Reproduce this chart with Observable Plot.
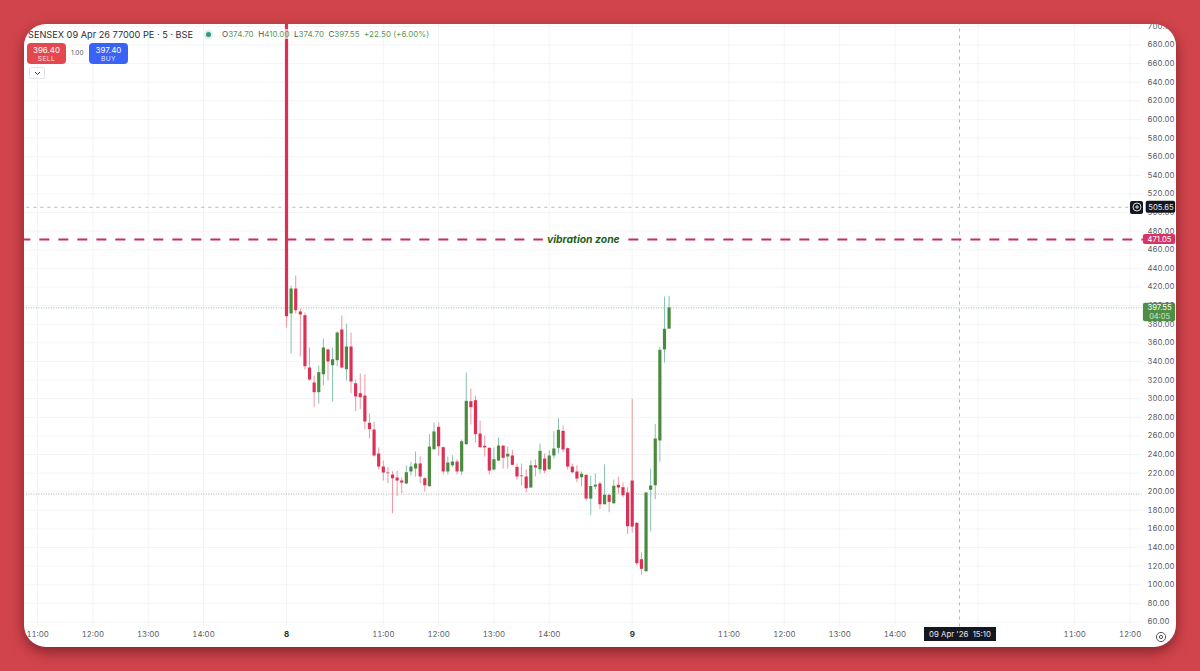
<!DOCTYPE html>
<html><head><meta charset="utf-8">
<script src="https://cdn.jsdelivr.net/npm/d3@7"></script>
<script src="https://cdn.jsdelivr.net/npm/@observablehq/plot@0.6"></script>
<style>
html,body{margin:0;padding:0;width:1200px;height:671px;overflow:hidden;background:#d2444c;font-family:Inter,"Noto Sans",sans-serif}
#card{position:absolute;left:24px;top:24px;width:1152px;height:623px;background:#fff;border-radius:22px;overflow:hidden;box-shadow:0 5px 14px rgba(70,10,15,.55)}
#card svg.plot{position:absolute;left:0;top:0;background:transparent}
.o{position:absolute;white-space:nowrap}
#title{left:4px;top:4.5px;font-size:9.2px;line-height:11px;color:#2a2e39}
#ohlc{left:198px;top:4.5px;font-size:8px;line-height:11px;color:#5b9a57}
#ohlc b{font-weight:400;color:#4a4e59}
#ohlc i{font-style:normal;background:rgba(255,255,255,.65)}
#dot{left:179.5px;top:5.5px;border-radius:50%;background:#2f9a7e;border:2.5px solid #dcefe9;box-sizing:content-box;width:5px;height:5px}
.btn{top:19px;width:39px;height:21px;border-radius:4px;color:#fff;text-align:center;font-size:8px;line-height:10px;padding-top:1.5px;box-sizing:border-box}
.btn span{display:block;font-size:6.6px;line-height:8px;opacity:.85;letter-spacing:.4px}
#sell{left:3px;background:#e5474f}
#buy{left:65px;background:#3b62f6}
#qty{left:47px;top:25px;font-size:6.5px;color:#555}
#more{left:5px;top:43px;width:16px;height:12px;border:1px solid #e3e5ea;border-radius:2px;box-sizing:border-box}
#more svg{position:absolute;left:4px;top:3px}
#gear{left:1130px;top:604px}
#plus{left:1106px;top:176.5px;width:13px;height:13px;background:#131722;border-radius:2px}
#plus svg{position:absolute;left:1.5px;top:1.5px}
</style></head>
<body>
<div id="card"></div>
<script>
// Candles: 5-minute session bars, 8 Apr 09:15 onward
const opens = [715,391,417.8,393.1,389.1,332.9,316.8,306.4,325.7,352.3,335.4,340.8,373.8,331.1,355.5,316,305.3,302.8,273.5,266.3,240.5,226.5,220.1,217.9,214.7,211.5,208.3,221.2,224.4,229.8,213.9,205.4,245.1,269.2,247.3,221.2,227.9,231.9,221.2,250.5,296.7,297.8,262,248.8,246.6,223.3,233,249,237.3,238.4,226.2,216.9,215.8,204,227.9,223.6,235.1,223.6,238.4,246.6,264.9,246.2,226.5,221.2,215,217.6,192.1,205,208.3,186,196.1,187.1,206.9,204.3,198.6,211.5,166,126.9,114,201.5,206.4,254.5,352.3,374.7];
const highs = [740,421,431.8,396.6,392,354.4,324.3,335,364.1,353.3,354.4,371.6,388.8,380.2,370.5,320,326.5,325.4,283.5,274.9,247,233,225.8,221.5,222.2,215,227.6,231.2,242.7,237.6,215,261.3,273.8,273.8,248,237.3,238.7,234.4,255.5,327.6,310.3,302.8,275.9,259.8,247.3,247,257.7,249.1,248,244.8,229.8,229.8,223.3,233,234,251.3,240.5,243.7,264.5,278.4,270.6,247,229.8,227.9,221.2,217.9,216.9,219,210.4,228.7,197.5,212.5,215.8,209.3,204.3,299.3,166.7,134.4,198.9,224.1,272.4,355.2,409.2,410];
const lows = [375.9,348,391,344.7,330.8,319,290.3,294.2,313.9,319,296.4,334,331.8,319,305.3,286,288.1,266.3,256.6,237.3,223.6,211.5,208.6,176.3,194.6,197.9,207.7,216.9,215.8,208.6,199.7,205,244.8,238.4,217.9,217.9,225.8,217.9,217.2,250.2,271.7,252.3,246.2,237.3,217.9,222.2,232.4,224.4,224.4,227.6,212.5,206.1,198.6,203.4,215.8,219,219.3,223.3,235.1,240.5,241.9,223.3,219,209.7,205,190,174.4,202.1,180.7,185.7,177.4,186.2,197.5,193.5,153.8,155.3,120.5,110.5,113.7,157,191.4,231.6,338.3,374.7];
const closes = [388,417.8,394.5,389.9,334.3,320,306.4,327.9,354.4,339.4,341.8,370.5,332.9,355.5,317.9,301.8,301,274.9,266.6,238.4,226.5,220.1,219.3,213.9,211.5,209.3,220.4,226.5,229.8,215.8,206.4,248,264.2,248.3,221.2,230.8,231.9,221.2,253.7,297.1,290.3,261.3,247.3,247,222.2,234.4,249.1,235.9,240.2,228.4,215.8,216.1,203.2,227.9,225.5,243.4,222.2,238.4,245.9,266,244.8,226.5,220.4,213.6,218.7,192.1,205.6,207,186,196.2,188.6,205.8,204,195.7,162.4,162,122.6,116.6,198.6,206.1,256.6,351.9,374.5,397.55];

// Axes
const priceTicks = d3.range(60, 701, 20);
const hourTicks = [-54,-42,-30,-18,21,33,45,57,96,108,120,132,171,183];
const hourLabels = ["11:00","12:00","13:00","14:00","11:00","12:00","13:00","14:00","11:00","12:00","13:00","14:00","11:00","12:00"];
const dayTicks = [0,75];
const dayLabels = ["8","9"];
const gridTicks = [...hourTicks,...dayTicks,150];

// Levels
const lastPrice = 397.55, zonePrice = 471.05, crossPrice = 505.65, prevLevel = 197.5, crossBar = 146;
const panelBottom = 54.6;

const candles = opens.map((o,i)=>({i,o,h:highs[i],l:lows[i],c:closes[i],up:closes[i]>=o}));
const UP="#4b8b3e", DOWN="#dc3157", UPW="#86c3ae", DOWNW="#f197a2";
const tagX1=185.9, tagX2=192.9;

const chart = Plot.plot({
  width:1152,height:623,
  marginTop:0,marginLeft:0,marginRight:34,marginBottom:21,
  x:{type:"linear",domain:[0,84],range:[262,649.2]},
  y:{type:"linear",domain:[60,680],range:[597.5,20.5]},
  style:{background:"transparent",fontFamily:"Inter, sans-serif"},
  marks:[
    Plot.ruleX(gridTicks,{x:d=>d,y1:panelBottom,y2:760,stroke:"#f3f4f7",strokeWidth:1}),
    Plot.ruleY(priceTicks,{y:d=>d,x1:-70,x2:185.6,stroke:"#f3f4f7",strokeWidth:1}),
    Plot.ruleY([prevLevel],{x1:-70,x2:185.6,stroke:"#a9abb0",strokeWidth:1,strokeDasharray:"1 1.5"}),
    Plot.ruleY([lastPrice],{x1:-70,x2:185.6,stroke:"#9cbf98",strokeWidth:1,strokeDasharray:"1 1.5"}),
    Plot.ruleY([crossPrice],{x1:-70,x2:183,stroke:"#b4b6bb",strokeWidth:1,strokeDasharray:"3 4"}),
    Plot.ruleX([crossBar],{y1:panelBottom,y2:760,stroke:"#b4b6bb",strokeWidth:1,strokeDasharray:"3 4"}),
    Plot.ruleY([zonePrice],{x1:-70,x2:185.9,stroke:"#cf2a5c",strokeWidth:2,strokeDasharray:"10 9"}),
    Plot.text(["vibration zone"],{x:64.4,y:zonePrice,dy:0.5,text:d=>d,fontSize:10.4,fontWeight:"bold",fontStyle:"italic",fill:"#1d611d",stroke:"white",strokeWidth:10,paintOrder:"stroke"}),
    Plot.ruleX(candles,{x:"i",y1:"l",y2:"h",stroke:d=>d.up?UPW:DOWNW,strokeWidth:1}),
    Plot.ruleX(candles,{x:"i",y1:"o",y2:"c",stroke:d=>d.up?UP:DOWN,strokeWidth:3.2}),
    Plot.axisY({ticks:priceTicks,anchor:"right",tickSize:0,tickPadding:5,tickFormat:d=>d.toFixed(2),fontSize:7.7,color:"#555a66",label:null}),
    Plot.axisX({ticks:hourTicks,anchor:"bottom",tickSize:0,tickPadding:5,tickFormat:d=>hourLabels[hourTicks.indexOf(d)],fontSize:7.8,color:"#555a66",label:null}),
    Plot.axisX({ticks:dayTicks,anchor:"bottom",tickSize:0,tickPadding:5,tickFormat:d=>dayLabels[dayTicks.indexOf(d)],fontSize:8,fontWeight:"bold",color:"#2a2e39",label:null}),
    // price tags on the axis
    Plot.rect([crossPrice],{x1:186.5,x2:tagX2,y1:d=>d-6.5,y2:d=>d+6.5,fill:"#131722",rx:2}),
    Plot.text([crossPrice],{x:(186.5+tagX2)/2,y:d=>d,text:d=>d.toFixed(2),fill:"#e8e9ec",fontSize:7.7}),
    Plot.rect([zonePrice],{x1:tagX1,x2:tagX2,y1:d=>d-5.4,y2:d=>d+5.4,fill:"#d6336b",rx:2}),
    Plot.text([zonePrice],{x:(tagX1+tagX2)/2,y:d=>d,text:d=>d.toFixed(2),fill:"#fff",fontSize:7.7}),
    Plot.rect([lastPrice],{x1:tagX1,x2:tagX2,y1:d=>d+5,y2:d=>d-15,fill:"#4f8f45",rx:2}),
    Plot.text([lastPrice],{x:(tagX1+tagX2)/2,y:d=>d,text:d=>d.toFixed(2),fill:"#fff",fontSize:7.7}),
    Plot.text(["04:05"],{x:(tagX1+tagX2)/2,y:lastPrice-9.5,text:d=>d,fill:"#d8e8d5",fontSize:7.4}),
  ]
});
const card=document.getElementById("card");
card.appendChild(chart);
card.insertAdjacentHTML("beforeend",`
<div class="o" id="title">SENSEX 09 Apr 26 77000 PE · 5 · BSE</div>
<div class="o" id="dot"></div>
<div class="o" id="ohlc"><b>O</b>374.70 <b>&nbsp;H</b><i>410.00</i> <b>&nbsp;L</b>374.70 <b>&nbsp;C</b>397.55 &nbsp;+22.50 (+6.00%)</div>
<div class="o btn" id="sell">396.40<span>SELL</span></div>
<div class="o" id="qty">1.00</div>
<div class="o btn" id="buy">397.40<span>BUY</span></div>
<div class="o" id="more"><svg width="7" height="5"><path d="M1 1l2.5 2.5L6 1" fill="none" stroke="#333" stroke-width="1"/></svg></div>
<div class="o" id="plus"><svg width="10" height="10"><circle cx="5" cy="5" r="4" fill="none" stroke="#ddd"/><path d="M3 5h4M5 3v4" stroke="#ddd"/></svg></div>
<div class="o" id="time" style="left:900px;top:603px;width:72px;height:14px;background:#131722;color:#e8e9ec;font-size:7.8px;line-height:14px;text-align:center">09 Apr '26 &nbsp;15:10</div>
<div class="o" id="gear"><svg width="14" height="14"><circle cx="7" cy="7" r="4.6" fill="none" stroke="#555" stroke-width="1"/><circle cx="7" cy="7" r="1.6" fill="none" stroke="#555" stroke-width="1"/></svg></div>
`);
</script>
</body></html>
